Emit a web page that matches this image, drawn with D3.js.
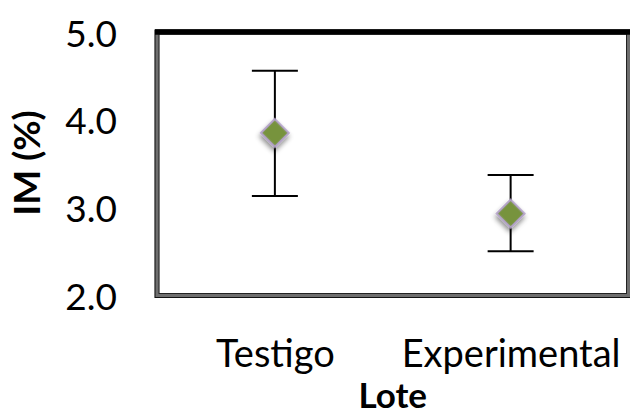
<!DOCTYPE html>
<html>
<head>
<meta charset="utf-8">
<script src="https://cdn.jsdelivr.net/npm/d3@7"></script>
<style>
  body { margin: 0; background: white; }
  text { font-family: Lato, "Open Sans", sans-serif; fill: black; }
</style>
</head>
<body>
<div class="chart"></div>
<script>
var categories = ["Testigo", "Experimental"]
var means = [3.86, 2.94]
var lower = [3.14, 2.51]
var upper = [4.57, 3.38]
var yTicks = [2, 3, 4, 5]

var width = 630, height = 416
var plotLeft = 157, plotRight = 628.5, plotTop = 32, plotBottom = 295.5

var svg = d3.select(".chart")
    .append("svg")
    .attr("width", width)
    .attr("height", height)

var defs = svg.append("defs")
var shadow = defs.append("filter")
    .attr("id", "shadow")
    .attr("x", "-50%").attr("y", "-50%")
    .attr("width", "200%").attr("height", "200%")
shadow.append("feDropShadow")
    .attr("dx", 2)
    .attr("dy", 3)
    .attr("stdDeviation", 2.5)
    .attr("flood-color", "#000")
    .attr("flood-opacity", 0.45)

var x = d3.scalePoint()
    .domain(categories)
    .range([plotLeft, plotRight])
    .padding(0.5)

var y = d3.scaleLinear()
    .domain([2, 5])
    .range([296, 33])

// frame: gray double line on left/bottom/right, heavy black top
svg.append("rect")
    .attr("x", plotLeft)
    .attr("y", plotTop)
    .attr("width", plotRight - plotLeft)
    .attr("height", plotBottom - plotTop)
    .attr("fill", "white")
    .attr("stroke", "#6e6e6e")
    .attr("stroke-width", 4.5)
svg.append("rect")
    .attr("x", plotLeft - 2)
    .attr("y", plotTop - 2)
    .attr("width", plotRight - plotLeft + 4)
    .attr("height", plotBottom - plotTop + 4)
    .attr("fill", "none")
    .attr("stroke", "#111")
    .attr("stroke-width", 1)
svg.append("rect")
    .attr("x", plotLeft + 2)
    .attr("y", plotTop + 2)
    .attr("width", plotRight - plotLeft - 4)
    .attr("height", plotBottom - plotTop - 4)
    .attr("fill", "none")
    .attr("stroke", "#222")
    .attr("stroke-width", 1)
svg.append("line")
    .attr("x1", plotLeft - 2)
    .attr("x2", plotRight + 2)
    .attr("y1", plotTop)
    .attr("y2", plotTop)
    .attr("stroke", "black")
    .attr("stroke-width", 5.5)

// y axis
var yAxis = svg.append("g")
    .attr("transform", "translate(" + plotLeft + ",0)")
    .call(d3.axisLeft(y)
        .tickValues(yTicks)
        .tickFormat(d3.format(".1f"))
        .tickSize(0)
        .tickPadding(40))
yAxis.select(".domain").remove()
yAxis.selectAll("text")
    .style("font-size", "37px")
    .attr("dy", "0.36em")
    .attr("font-family", null)

// x axis
var xAxis = svg.append("g")
    .attr("transform", "translate(0," + plotBottom + ")")
    .call(d3.axisBottom(x).tickSize(0))
xAxis.select(".domain").remove()
xAxis.selectAll("text")
    .attr("y", 71)
    .attr("dy", 0)
    .attr("font-family", null)
    .style("font-size", "38px")

// axis titles
svg.append("text")
    .attr("transform", "translate(40,163) rotate(-90)")
    .attr("text-anchor", "middle")
    .style("font-size", "37px")
    .style("font-weight", "bold")
    .text("IM (%)")

svg.append("text")
    .attr("x", (plotLeft + plotRight) / 2)
    .attr("y", 408)
    .attr("text-anchor", "middle")
    .style("font-size", "35px")
    .style("font-weight", "bold")
    .text("Lote")

// error bars
var bars = svg.selectAll(".errBar")
    .data(categories)
    .enter().append("g")
    .attr("class", "errBar")
    .attr("stroke", "black")
    .attr("stroke-width", 2)

bars.append("line")
    .attr("x1", function(d) { return x(d) })
    .attr("x2", function(d) { return x(d) })
    .attr("y1", function(d, i) { return y(lower[i]) })
    .attr("y2", function(d, i) { return y(upper[i]) })
bars.append("line")
    .attr("x1", function(d) { return x(d) - 23 })
    .attr("x2", function(d) { return x(d) + 23 })
    .attr("y1", function(d, i) { return y(upper[i]) })
    .attr("y2", function(d, i) { return y(upper[i]) })
bars.append("line")
    .attr("x1", function(d) { return x(d) - 23 })
    .attr("x2", function(d) { return x(d) + 23 })
    .attr("y1", function(d, i) { return y(lower[i]) })
    .attr("y2", function(d, i) { return y(lower[i]) })

// markers
svg.selectAll(".point")
    .data(categories)
    .enter().append("path")
    .attr("class", "point")
    .attr("d", d3.symbol().type(d3.symbolSquare).size(390))
    .attr("transform", function(d, i) {
        return "translate(" + x(d) + "," + y(means[i]) + ") rotate(45)"
    })
    .attr("fill", "#77933C")
    .attr("stroke", "#B3A2C7")
    .attr("stroke-width", 2)
    .attr("filter", "url(#shadow)")
</script>
</body>
</html>
